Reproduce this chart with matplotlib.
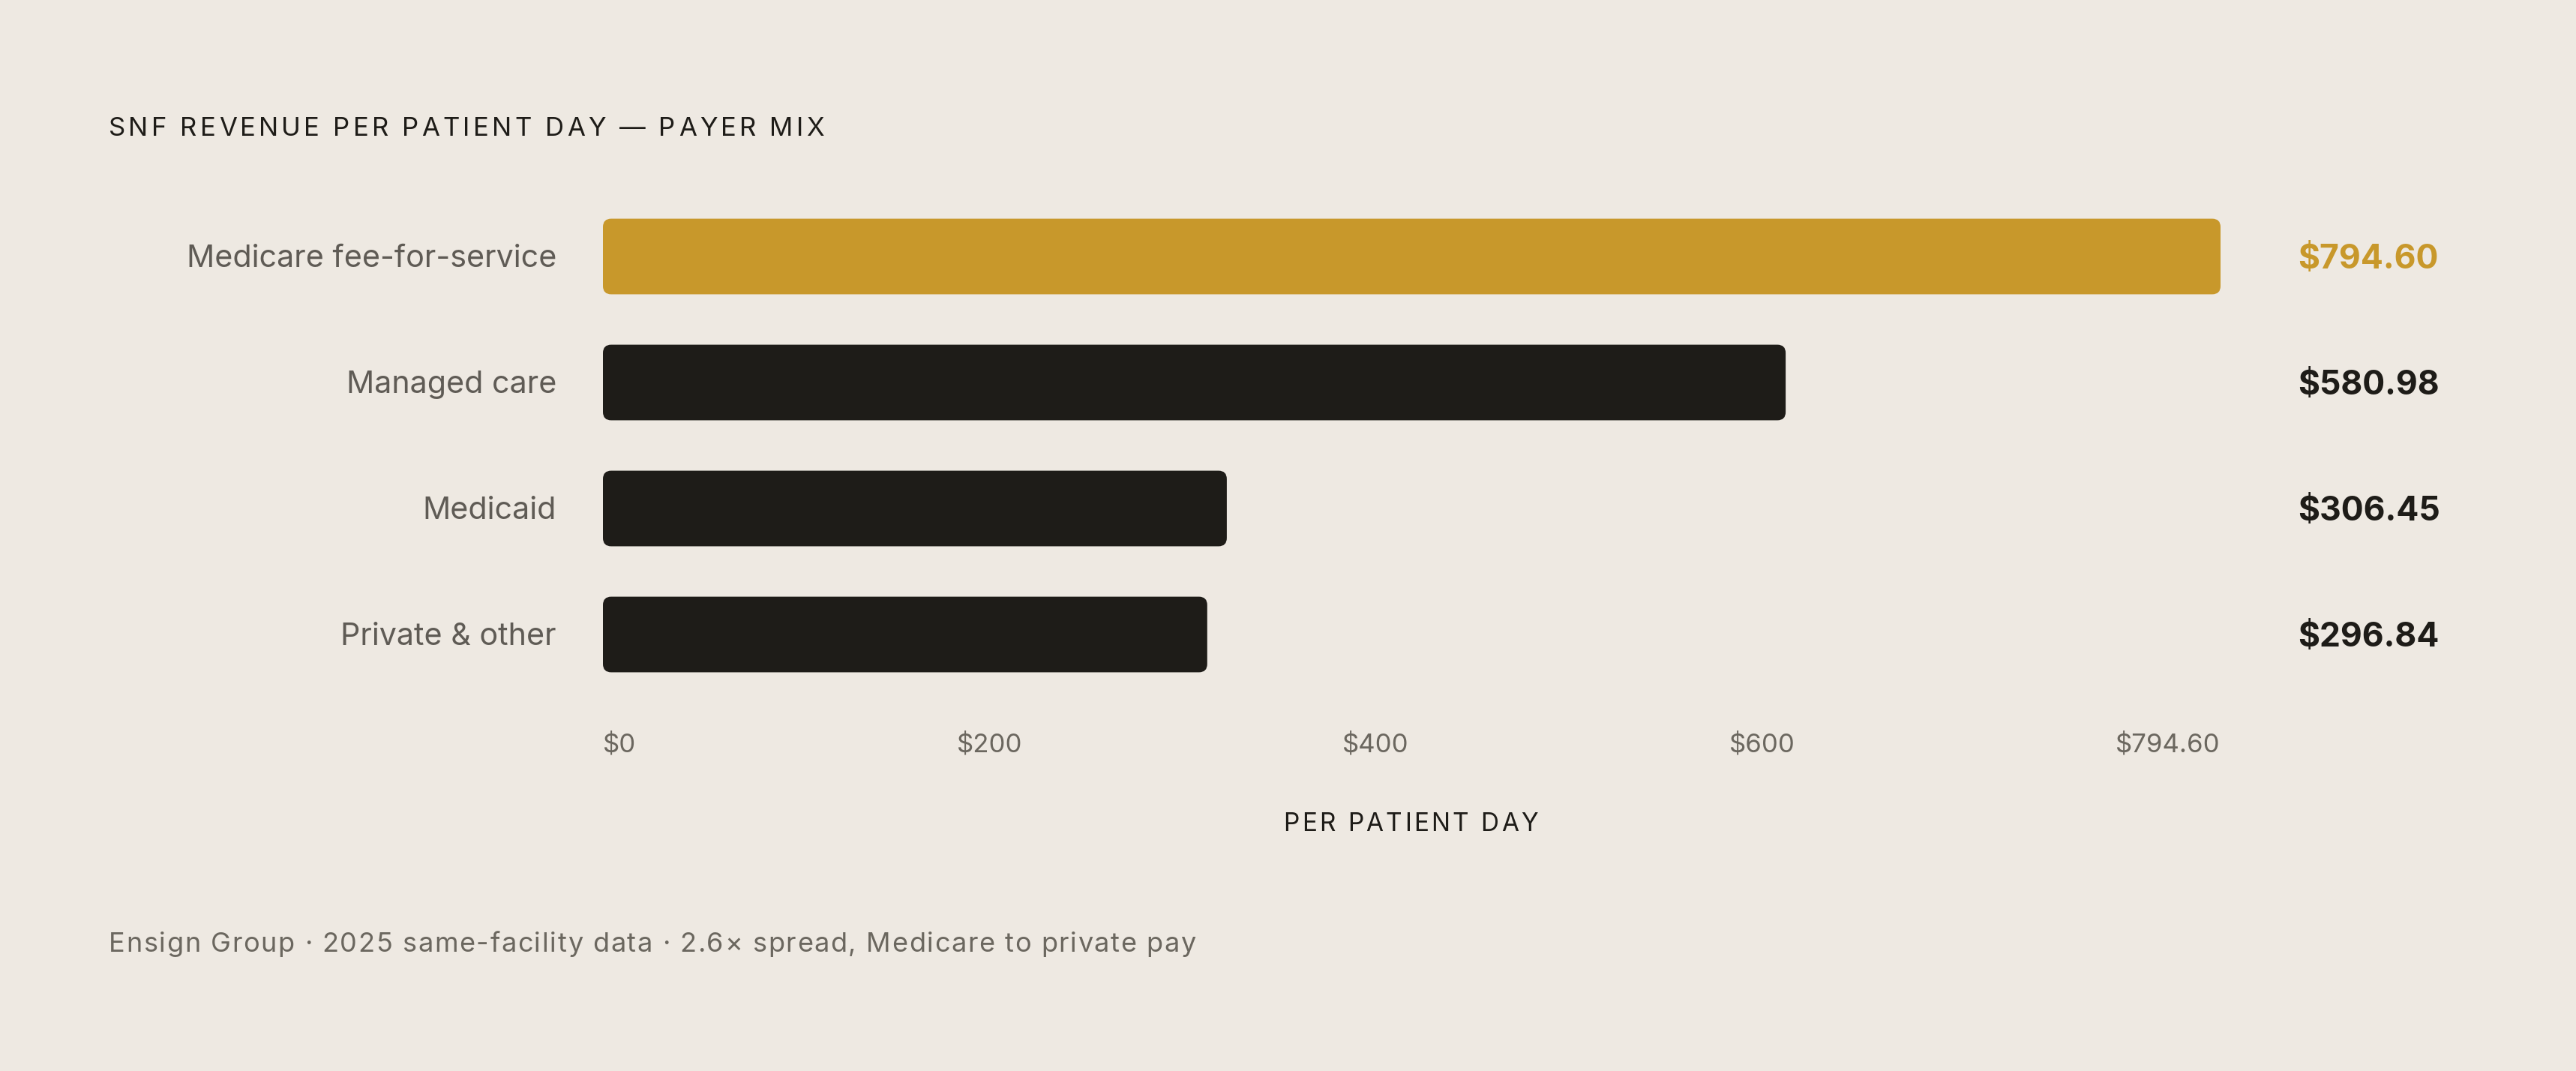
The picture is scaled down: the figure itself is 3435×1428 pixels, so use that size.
import matplotlib
matplotlib.use("Agg")
import matplotlib.pyplot as plt
from matplotlib.patches import FancyBboxPatch
from matplotlib.font_manager import FontProperties
from matplotlib.textpath import TextToPath
import matplotlib.transforms as mtransforms

# data
categories = ["Medicare fee-for-service", "Managed care", "Medicaid", "Private & other"]
values = [794.60, 580.98, 306.45, 296.84]
value_labels = ["$794.60", "$580.98", "$306.45", "$296.84"]
tick_labels = ["$0", "$200", "$400", "$600", "$794.60"]

title = "SNF REVENUE PER PATIENT DAY \u2014 PAYER MIX"
xlabel = "PER PATIENT DAY"
footer = "Ensign Group \u00b7 2025 same-facility data \u00b7 2.6\u00d7 spread, Medicare to private pay"

BG = "#EEE9E2"
GOLD = "#C8982B"
DARK = "#1E1C18"
LABEL_GRAY = "#5F5B55"
TICK_GRAY = "#6B675F"
FONT = "Inter"

W, H, DPI = 3435, 1428, 100
fig = plt.figure(figsize=(W / DPI, H / DPI), dpi=DPI, facecolor=BG)
plt.rcParams["font.family"] = [FONT, "DejaVu Sans"]

ax_left, ax_right = 804 / W, 2961 / W
ax_top, ax_bottom = 1 - 258 / H, 1 - 930 / H
ax = fig.add_axes([ax_left, ax_bottom, ax_right - ax_left, ax_top - ax_bottom])
ax.set_facecolor(BG)
ax.set_xlim(0, max(values))
ax.set_ylim(len(categories) - 0.5, -0.5)
ax.axis("off")

bar_h = 0.6
# keep the rounding circular despite unequal x/y scales
px_x = max(values) / ((ax_right - ax_left) * W)
px_y = len(categories) / ((ax_top - ax_bottom) * H)
radius_px = 11
for i, v in enumerate(values):
    color = GOLD if i == 0 else DARK
    patch = FancyBboxPatch((0, i - bar_h / 2), v, bar_h,
                           boxstyle=f"round,pad=0,rounding_size={radius_px * px_x}",
                           mutation_aspect=px_y / px_x,
                           facecolor=color, edgecolor="none")
    ax.add_patch(patch)

trans_fig_data = mtransforms.blended_transform_factory(fig.transFigure, ax.transData)
for i, (cat, lab) in enumerate(zip(categories, value_labels)):
    fig.text(742 / W, i + 14.5 * px_y, cat, transform=trans_fig_data, ha="right",
             va="baseline", fontsize=29.7, color=LABEL_GRAY)
    fig.text(3064 / W, i + 16.5 * px_y, lab, transform=trans_fig_data, ha="left",
             va="baseline", fontsize=32, fontweight="bold",
             color=GOLD if i == 0 else DARK)

ttp = TextToPath()


def text_width(s, fp):
    return (ttp.get_text_width_height_descent(s + "|", fp, ismath=False)[0]
            - ttp.get_text_width_height_descent("|", fp, ismath=False)[0]) * DPI / 72


def spaced_text(x_px, y_px, s, size, spacing_em, color, ha="left"):
    # draw letter-spaced text one glyph at a time; y_px is the baseline
    fp = FontProperties(family=FONT, size=size)
    sp = spacing_em * size * DPI / 72
    total = text_width(s, fp) + sp * (len(s) - 1)
    x0 = x_px - (total / 2 if ha == "center" else 0)
    for i, ch in enumerate(s):
        if ch == " ":
            continue
        x = x0 + text_width(s[:i], fp) + sp * i
        fig.text(x / W, 1 - y_px / H, ch, ha="left", va="baseline",
                 fontproperties=fp, color=color)


spaced_text(145, 181, title, 25, 0.12, DARK)
spaced_text(1881, 1108, xlabel, 24, 0.1, DARK, ha="center")
spaced_text(145, 1269, footer, 26, 0.044, TICK_GRAY)

# tick labels spread evenly across the bar track (space-between)
renderer = fig.canvas.get_renderer()
tick_y = 1 - 1002 / H
texts = [fig.text(0, tick_y, t, ha="left", va="baseline", fontsize=25, color=TICK_GRAY)
         for t in tick_labels]
widths = [t.get_window_extent(renderer).width for t in texts]
track = (ax_right - ax_left) * W
gap = (track - sum(widths)) / (len(texts) - 1)
x = ax_left * W
for t, w in zip(texts, widths):
    t.set_x(x / W)
    x += w + gap

fig.savefig("out.png", dpi=DPI, facecolor=BG)
